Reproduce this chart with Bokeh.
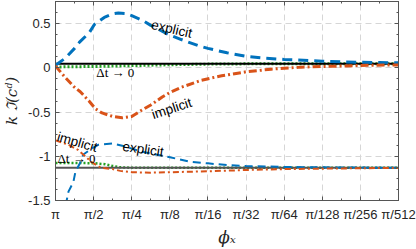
from bokeh.plotting import figure
from bokeh.models import Range1d, FixedTicker, LinearAxis, Label
from bokeh.embed import file_html
from bokeh.resources import INLINE
import math

# x is k where phi_x = pi / 2**k
tick_k = [0, 1, 2, 3, 4, 5, 6, 7, 8, 9]
tick_labels = ["π", "π/2", "π/4", "π/8", "π/16", "π/32", "π/64", "π/128", "π/256", "π/512"]

# upper group
up_exp_k = [0, 0.26, 0.5, 0.63, 0.89, 1.02, 1.28, 1.5, 1.65, 1.83, 2.0, 2.27, 2.5, 3.0, 3.3, 3.75, 4.0, 4.5, 5.0, 5.5, 6.0, 6.5, 7.0, 7.5, 8.0, 8.5, 9.0]
up_exp_v = [0.03, 0.11, 0.22, 0.29, 0.40, 0.49, 0.57, 0.61, 0.62, 0.615, 0.59, 0.54, 0.48, 0.37, 0.32, 0.25, 0.22, 0.17, 0.13, 0.11, 0.095, 0.085, 0.075, 0.068, 0.063, 0.06, 0.057]
up_imp_k = [0, 0.26, 0.5, 0.65, 0.89, 1.04, 1.22, 1.5, 1.75, 2.0, 2.22, 2.5, 2.8, 3.0, 3.3, 3.83, 4.36, 5.0, 5.66, 6.0, 6.44, 7.0, 7.5, 8.0, 9.0]
up_imp_v = [0.02, -0.11, -0.22, -0.27, -0.38, -0.46, -0.51, -0.55, -0.565, -0.55, -0.49, -0.42, -0.33, -0.28, -0.22, -0.14, -0.09, -0.045, -0.015, -0.005, 0.008, 0.015, 0.02, 0.027, 0.033]
up_lim_k = [0, 1, 2, 3, 4, 5, 6, 7, 8, 9]
up_lim_v = [0.01, 0.015, 0.025, 0.035, 0.042, 0.045, 0.047, 0.047, 0.047, 0.047]
up_ref_k = [0, 9]
up_ref_v = [0.047, 0.047]

# lower group
lo_exp_k = [0.2, 0.34, 0.47, 0.52, 0.65, 0.73, 0.96, 1.12, 1.5, 1.75, 2.27, 2.87, 3.0, 3.5, 4.0, 4.5, 5.0, 5.5, 6.0, 7.0, 8.0, 9.0]
lo_exp_v = [-1.7, -1.40, -1.29, -1.18, -1.07, -0.98, -0.91, -0.87, -0.855, -0.88, -0.95, -1.0, -1.01, -1.06, -1.08, -1.10, -1.11, -1.115, -1.12, -1.125, -1.128, -1.13]
lo_imp_k = [0, 0.34, 0.6, 0.78, 0.96, 1.2, 1.5, 1.7, 2.0, 2.5, 3.0, 3.5, 4.0, 5.0, 6.0, 7.0, 8.0, 9.0]
lo_imp_v = [-0.82, -0.87, -0.93, -1.0, -1.07, -1.13, -1.145, -1.165, -1.18, -1.185, -1.18, -1.175, -1.17, -1.155, -1.145, -1.14, -1.135, -1.132]
lo_lim_k = [0, 1.0, 1.3, 1.5, 1.7, 2.0, 3.0, 9.0]
lo_lim_v = [-1.075, -1.078, -1.09, -1.11, -1.125, -1.13, -1.13, -1.13]
lo_ref_k = [0, 9]
lo_ref_v = [-1.13, -1.13]

y_ticks = [-1.5, -1, -0.5, 0, 0.5]
y_tick_labels = ["-1.5", "-1", "-0.5", "0", "0.5"]

BLUE = "#0072BD"
ORANGE = "#D95319"
GREEN = "#22a022"
TXT = "#262626"

p = figure(width=416, height=249, output_backend="svg", toolbar_location=None,
           x_range=Range1d(0, 9), y_range=Range1d(-1.5, 0.75),
           min_border_left=53, min_border_right=18, min_border_top=1, min_border_bottom=42)
p.background_fill_color = "white"
p.border_fill_color = "white"
p.outline_line_color = "#555555"
p.outline_line_width = 1

xt = FixedTicker(ticks=tick_k, minor_ticks=[k + 0.5 for k in tick_k[:-1]])
yt = FixedTicker(ticks=y_ticks, minor_ticks=[-1.5 + 0.125 * i for i in range(19)])

def style_axis(ax, labels=True):
    ax.axis_line_color = "#555555"
    ax.major_tick_in = 4
    ax.major_tick_out = 0
    ax.minor_tick_in = 2
    ax.minor_tick_out = 0
    ax.major_tick_line_color = "#555555"
    ax.minor_tick_line_color = "#555555"
    if labels:
        ax.major_label_text_font = "Liberation Sans"
        ax.major_label_text_font_size = "13px"
        ax.major_label_text_color = TXT
    else:
        ax.major_label_text_font_size = "0px"
        ax.major_label_standoff = 0

p.xaxis.ticker = xt
p.yaxis.ticker = yt
p.xaxis.major_label_overrides = {k: s for k, s in zip(tick_k, tick_labels)}
p.yaxis.major_label_overrides = {v: s for v, s in zip(y_ticks, y_tick_labels)}
style_axis(p.xaxis[0])
style_axis(p.yaxis[0])
p.xaxis.major_label_standoff = 6
p.yaxis.major_label_standoff = 5

p.xaxis.axis_label = "ϕₓ"
p.xaxis.axis_label_text_font = "DejaVu Serif"
p.xaxis.axis_label_text_font_style = "italic"
p.xaxis.axis_label_text_font_size = "17px"
p.xaxis.axis_label_text_color = TXT
p.xaxis.axis_label_standoff = 2

p.yaxis.axis_label = "k ℑ(cᵈ)"
p.yaxis.axis_label_text_font = "DejaVu Serif"
p.yaxis.axis_label_text_font_style = "italic"
p.yaxis.axis_label_text_font_size = "15px"
p.yaxis.axis_label_text_color = TXT
p.yaxis.axis_label_standoff = 4

top = LinearAxis(ticker=xt)
style_axis(top, labels=False)
top.major_label_overrides = {k: "" for k in tick_k}
p.add_layout(top, "above")
right = LinearAxis(ticker=yt)
style_axis(right, labels=False)
right.major_label_overrides = {v: "" for v in y_ticks}
p.add_layout(right, "right")

p.xgrid.ticker = xt
p.ygrid.ticker = yt
for g in (p.xgrid[0], p.ygrid[0]):
    g.grid_line_color = "#d6d6d6"
    g.grid_line_dash = "6 4"
    g.grid_line_width = 1

# reference/limit lines
p.line(up_lim_k, up_lim_v, line_color=GREEN, line_width=3, line_dash="2 2")
p.line(up_ref_k, up_ref_v, line_color="black", line_width=2)
p.line(lo_lim_k, lo_lim_v, line_color=GREEN, line_width=2.5, line_dash="2 2")
p.line(lo_ref_k, lo_ref_v, line_color="#555555", line_width=2)

# curves
p.line(up_exp_k, up_exp_v, line_color=BLUE, line_width=3, line_dash="10 6")
p.line(up_imp_k, up_imp_v, line_color=ORANGE, line_width=3, line_dash="8 3 2 3")
p.line(lo_exp_k, lo_exp_v, line_color=BLUE, line_width=2, line_dash="8 5")
p.line(lo_imp_k, lo_imp_v, line_color=ORANGE, line_width=2, line_dash="6 3 2 3")

def lab(x, y, t, ang=0.0, font="Liberation Sans", size="13.5px", style="normal"):
    p.add_layout(Label(x=x, y=y, text=t, angle=math.radians(ang), text_font=font,
                       text_font_size=size, text_font_style=style, text_color="black",
                       text_align="center", text_baseline="middle"))

lab(3.05, 0.44, "explicit", -13)
lab(3.05, -0.46, "implicit", 18)
lab(1.57, -0.05, "Δt → 0", 0, "Liberation Serif", "13px")
lab(0.57, -0.84, "implicit", -16)
lab(2.3, -0.92, "explicit", -8)
lab(0.55, -1.03, "Δt → 0", 0, "Liberation Serif", "13px")

open("out.html", "w").write(file_html(p, INLINE))
